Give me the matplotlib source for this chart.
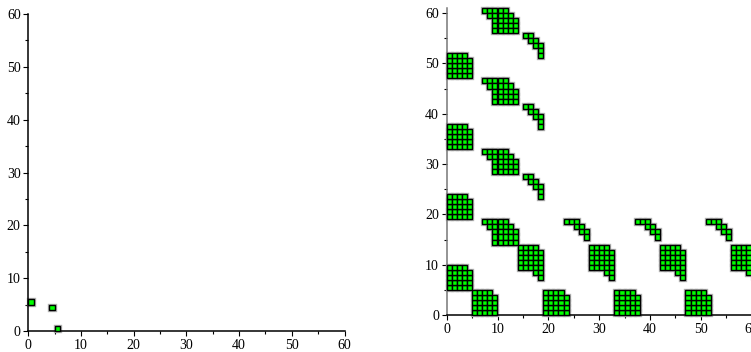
import matplotlib.pyplot as plt
from matplotlib.ticker import MultipleLocator

plt.rcParams['font.family'] = ['Liberation Serif', 'DejaVu Serif']

# left plot: nonzero cells (col, row)
left_cols = [0, 4, 5]
left_rows = [5, 4, 0]

# right plot: nonzero cells stored as runs (row, first col, last col)
right_runs = [
    # blocks along the left edge
    (5, 0, 4), (6, 0, 4), (7, 0, 4), (8, 0, 4), (9, 0, 3),
    (19, 0, 4), (20, 0, 4), (21, 0, 4), (22, 0, 4), (23, 0, 3),
    (33, 0, 4), (34, 0, 4), (35, 0, 4), (36, 0, 4), (37, 0, 3),
    (47, 0, 4), (48, 0, 4), (49, 0, 4), (50, 0, 4), (51, 0, 3),
    # blocks along the bottom
    (0, 5, 9), (1, 5, 9), (2, 5, 9), (3, 5, 9), (4, 5, 8),
    (0, 19, 23), (1, 19, 23), (2, 19, 23), (3, 19, 23), (4, 19, 22),
    (0, 33, 37), (1, 33, 37), (2, 33, 37), (3, 33, 37), (4, 33, 36),
    (0, 47, 51), (1, 47, 51), (2, 47, 51), (3, 47, 51), (4, 47, 50),
    # big stair blocks
    (60, 7, 11), (59, 8, 12), (58, 9, 13), (57, 9, 13), (56, 9, 13),
    (46, 7, 11), (45, 8, 12), (44, 9, 13), (43, 9, 13), (42, 9, 13),
    (32, 7, 11), (31, 8, 12), (30, 9, 13), (29, 9, 13), (28, 9, 13),
    (18, 7, 11), (17, 8, 12), (16, 9, 13), (15, 9, 13), (14, 9, 13),
    # small stairs
    (55, 15, 16), (54, 16, 17), (53, 17, 18), (52, 18, 18), (51, 18, 18),
    (41, 15, 16), (40, 16, 17), (39, 17, 18), (38, 18, 18), (37, 18, 18),
    (27, 15, 16), (26, 16, 17), (25, 17, 18), (24, 18, 18), (23, 18, 18),
    (18, 23, 25), (17, 25, 26), (16, 26, 27), (15, 27, 27),
    (18, 37, 39), (17, 39, 40), (16, 40, 41), (15, 41, 41),
    (18, 51, 53), (17, 53, 54), (16, 54, 55), (15, 55, 55),
    # middle row blocks
    (13, 14, 17), (12, 14, 18), (11, 14, 18), (10, 14, 18), (9, 14, 18), (8, 17, 18), (7, 18, 18),
    (13, 28, 31), (12, 28, 32), (11, 28, 32), (10, 28, 32), (9, 28, 32), (8, 31, 32), (7, 32, 32),
    (13, 42, 45), (12, 42, 46), (11, 42, 46), (10, 42, 46), (9, 42, 46), (8, 45, 46), (7, 46, 46),
    (13, 56, 59), (12, 56, 60), (11, 56, 60), (10, 56, 60), (9, 56, 60), (8, 59, 60), (7, 60, 60),
]

right_cols, right_rows = [], []
for row, c0, c1 in right_runs:
    for c in range(c0, c1 + 1):
        right_cols.append(c)
        right_rows.append(row)

W, H = 751, 352
fig = plt.figure(figsize=(W / 100, H / 100), dpi=100)
ax1 = fig.add_axes([28.3 / W, 1 - 331 / H, (344.5 - 28.3) / W, (331 - 14) / H])
ax2 = fig.add_axes([446.7 / W, 1 - 315 / H, (751.5 - 446.7) / W, (315 - 8) / H])


def style(ax, ymax, ycolor):
    ax.set_xlim(0, 60)
    ax.set_ylim(0, ymax)
    for s in ['top', 'right']:
        ax.spines[s].set_visible(False)
    ax.spines['bottom'].set_linewidth(1.1)
    ax.spines['left'].set_linewidth(1.1)
    ax.spines['left'].set_color(ycolor)
    ax.xaxis.set_major_locator(MultipleLocator(10))
    ax.yaxis.set_major_locator(MultipleLocator(10))
    ax.xaxis.set_minor_locator(MultipleLocator(5))
    ax.yaxis.set_minor_locator(MultipleLocator(5))
    ax.tick_params(which='major', length=3.5, width=0.8, labelsize=10, pad=2)
    ax.tick_params(which='minor', length=2.5, width=0.8)
    ax.set_facecolor('none')


style(ax1, 60, 'black')
style(ax2, 61, '#777777')


def cells(ax, cols, rows):
    # soft grey halo first, then the green squares with black borders
    ax.bar(cols, 1, width=1, bottom=rows, align='edge', color='none',
           edgecolor='#b0b0b0', linewidth=2.4, clip_on=False, zorder=2)
    ax.bar(cols, 1, width=1, bottom=rows, align='edge', color='#00ff00',
           edgecolor='black', linewidth=1.0, clip_on=False, zorder=3)


cells(ax1, left_cols, left_rows)
cells(ax2, right_cols, right_rows)

fig.savefig('out.png', dpi=100)
